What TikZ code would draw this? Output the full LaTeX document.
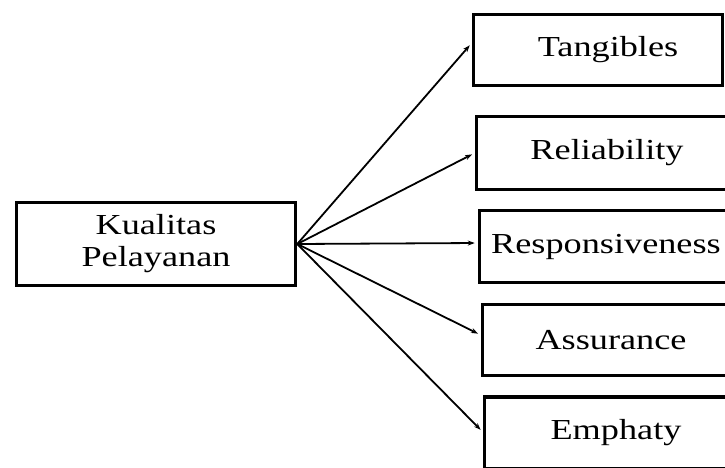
\documentclass[tikz,border=0pt]{standalone}
\usepackage{fontspec}
\setmainfont{Liberation Serif}[FakeStretch=1.25]
\usetikzlibrary{arrows.meta}
\begin{document}
\begin{tikzpicture}[x=1pt,y=-1pt,
  box/.style={draw, line width=3.5pt, rectangle, inner sep=0pt, font=\fontsize{29}{32}\selectfont},
  arr/.style={line width=1.8pt, -{Stealth[length=7pt,width=5pt]}, shorten >=3pt}]
\useasboundingbox (0,0) rectangle (725,468);
\clip (0,0) rectangle (725,468);
\node[box, minimum width=279pt, minimum height=83pt, align=center] (kp) at (156,244) {Kualitas\\Pelayanan};
\node[box, minimum width=249pt, minimum height=71pt] (tg) at (598,50) {\hspace*{20pt}Tangibles};
\node[box, minimum width=261pt, minimum height=73pt] (rl) at (607,153) {Reliability};
\node[box, minimum width=253pt, minimum height=72pt] (rs) at (606,246.5) {Responsiveness};
\node[box, minimum width=257pt, minimum height=71pt] (as) at (611,340) {Assurance};
\node[box, minimum width=263pt, minimum height=72pt] (em) at (616,433) {Emphaty};
\draw[arr] (kp.east) -- ([yshift=7pt]tg.west);
\draw[arr] (kp.east) -- (rl.west);
\draw[arr] (kp.east) -- ([yshift=3.5pt]rs.west);
\draw[arr] (kp.east) -- ([yshift=5pt]as.west);
\draw[arr] (kp.east) -- ([yshift=1pt]em.west);
\end{tikzpicture}
\end{document}
